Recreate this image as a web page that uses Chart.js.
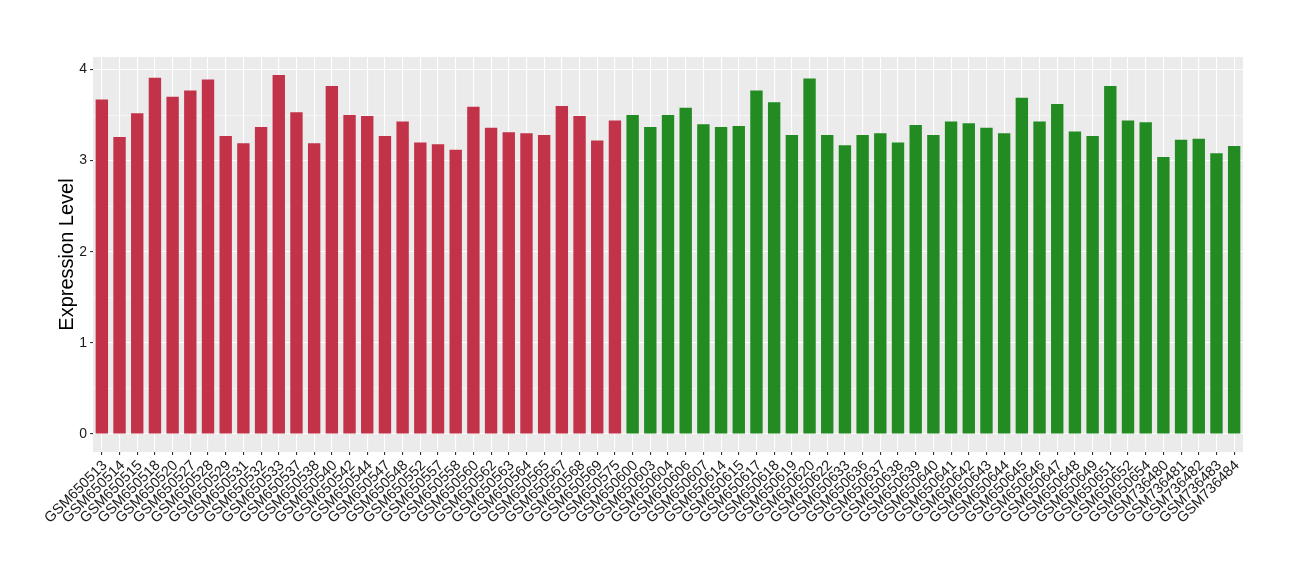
<!DOCTYPE html>
<html>
<head>
<meta charset="utf-8">
<script src="https://cdn.jsdelivr.net/npm/chart.js@4/dist/chart.umd.min.js"></script>
<style>
  html, body { margin: 0; padding: 0; background: #ffffff; }
  #wrap { width: 1300px; height: 580px; }
</style>
</head>
<body>
<div id="wrap"><canvas id="c" width="1300" height="580"></canvas></div>
<script>
// ---- data ----
const groupACategories = ["GSM650513","GSM650514","GSM650515","GSM650518","GSM650520","GSM650527","GSM650528","GSM650529","GSM650531","GSM650532","GSM650533","GSM650537","GSM650538","GSM650540","GSM650542","GSM650544","GSM650547","GSM650548","GSM650552","GSM650557","GSM650558","GSM650560","GSM650562","GSM650563","GSM650564","GSM650565","GSM650567","GSM650568","GSM650569","GSM650575"];
const groupAValues = [3.67,3.26,3.52,3.91,3.70,3.77,3.89,3.27,3.19,3.37,3.94,3.53,3.19,3.82,3.50,3.49,3.27,3.43,3.20,3.18,3.12,3.59,3.36,3.31,3.30,3.28,3.60,3.49,3.22,3.44];
const groupBCategories = ["GSM650600","GSM650603","GSM650604","GSM650606","GSM650607","GSM650614","GSM650615","GSM650617","GSM650618","GSM650619","GSM650620","GSM650622","GSM650633","GSM650636","GSM650637","GSM650638","GSM650639","GSM650640","GSM650641","GSM650642","GSM650643","GSM650644","GSM650645","GSM650646","GSM650647","GSM650648","GSM650649","GSM650651","GSM650652","GSM650654","GSM736480","GSM736481","GSM736482","GSM736483","GSM736484"];
const groupBValues = [3.50,3.37,3.50,3.58,3.40,3.37,3.38,3.77,3.64,3.28,3.90,3.28,3.17,3.28,3.30,3.20,3.39,3.28,3.43,3.41,3.36,3.30,3.69,3.43,3.62,3.32,3.27,3.82,3.44,3.42,3.04,3.23,3.24,3.08,3.16];
const yTickValues = [0, 1, 2, 3, 4];
const yMinorValues = [0.5, 1.5, 2.5, 3.5];
const yAxisTitle = "Expression Level";

const colorA = "#C23249";
const colorB = "#228B22";

const categories = groupACategories.concat(groupBCategories);
const values = groupAValues.concat(groupBValues);
const barColors = groupACategories.map(() => colorA).concat(groupBCategories.map(() => colorB));

const vmax = Math.max(...values);
const yMin = -0.05 * vmax;
const yMax = 1.05 * vmax;

const isMajor = v => yTickValues.some(t => Math.abs(t - v) < 1e-6);

const panelBg = {
  id: 'panelBg',
  beforeDraw(chart) {
    const {ctx, chartArea: a} = chart;
    ctx.save();
    ctx.fillStyle = '#EBEBEB';
    ctx.fillRect(a.left, a.top, a.right - a.left, a.bottom - a.top);
    ctx.restore();
  }
};

const FONT = "'Liberation Sans', Arial, Helvetica, sans-serif";

new Chart(document.getElementById('c'), {
  type: 'bar',
  data: {
    labels: categories,
    datasets: [{
      data: values,
      backgroundColor: barColors,
      borderWidth: 0,
      barPercentage: 0.7,
      categoryPercentage: 1.0
    }]
  },
  options: {
    responsive: false,
    devicePixelRatio: 1,
    animation: false,
    layout: { padding: { left: 0, right: 57, top: 57, bottom: 0 } },
    plugins: { legend: { display: false }, tooltip: { enabled: false } },
    scales: {
      x: {
        type: 'category',
        offset: true,
        grid: {
          offset: false,
          color: '#FFFFFF',
          lineWidth: 1.1,
          drawTicks: true,
          tickLength: 3,
          tickColor: '#333333',
          tickWidth: 1.1
        },
        border: { display: false },
        ticks: {
          autoSkip: false,
          maxRotation: 45,
          minRotation: 45,
          padding: 2,
          labelOffset: 3,
          color: '#1a1a1a',
          font: { family: FONT, size: 14.5 }
        },
        afterFit(scale) { scale.height = 128; }
      },
      y: {
        min: yMin,
        max: yMax,
        afterBuildTicks(scale) {
          scale.ticks = yTickValues.concat(yMinorValues).sort((a, b) => a - b).map(v => ({ value: v }));
        },
        grid: {
          color: '#FFFFFF',
          lineWidth: ctx => isMajor(ctx.tick.value) ? 1.1 : 0.55,
          drawTicks: true,
          tickLength: 3,
          tickColor: ctx => isMajor(ctx.tick.value) ? '#333333' : 'rgba(0,0,0,0)',
          tickWidth: 1.1
        },
        border: { display: false },
        ticks: {
          padding: 3,
          color: '#1a1a1a',
          font: { family: FONT, size: 14 },
          callback: v => isMajor(v) ? String(Math.round(v)) : ''
        },
        title: {
          display: true,
          text: yAxisTitle,
          color: '#000000',
          font: { family: FONT, size: 20 },
          padding: { top: 55, bottom: 0 }
        },
        afterFit(scale) { scale.width = 93; }
      }
    }
  },
  plugins: [panelBg]
});
</script>
</body>
</html>
